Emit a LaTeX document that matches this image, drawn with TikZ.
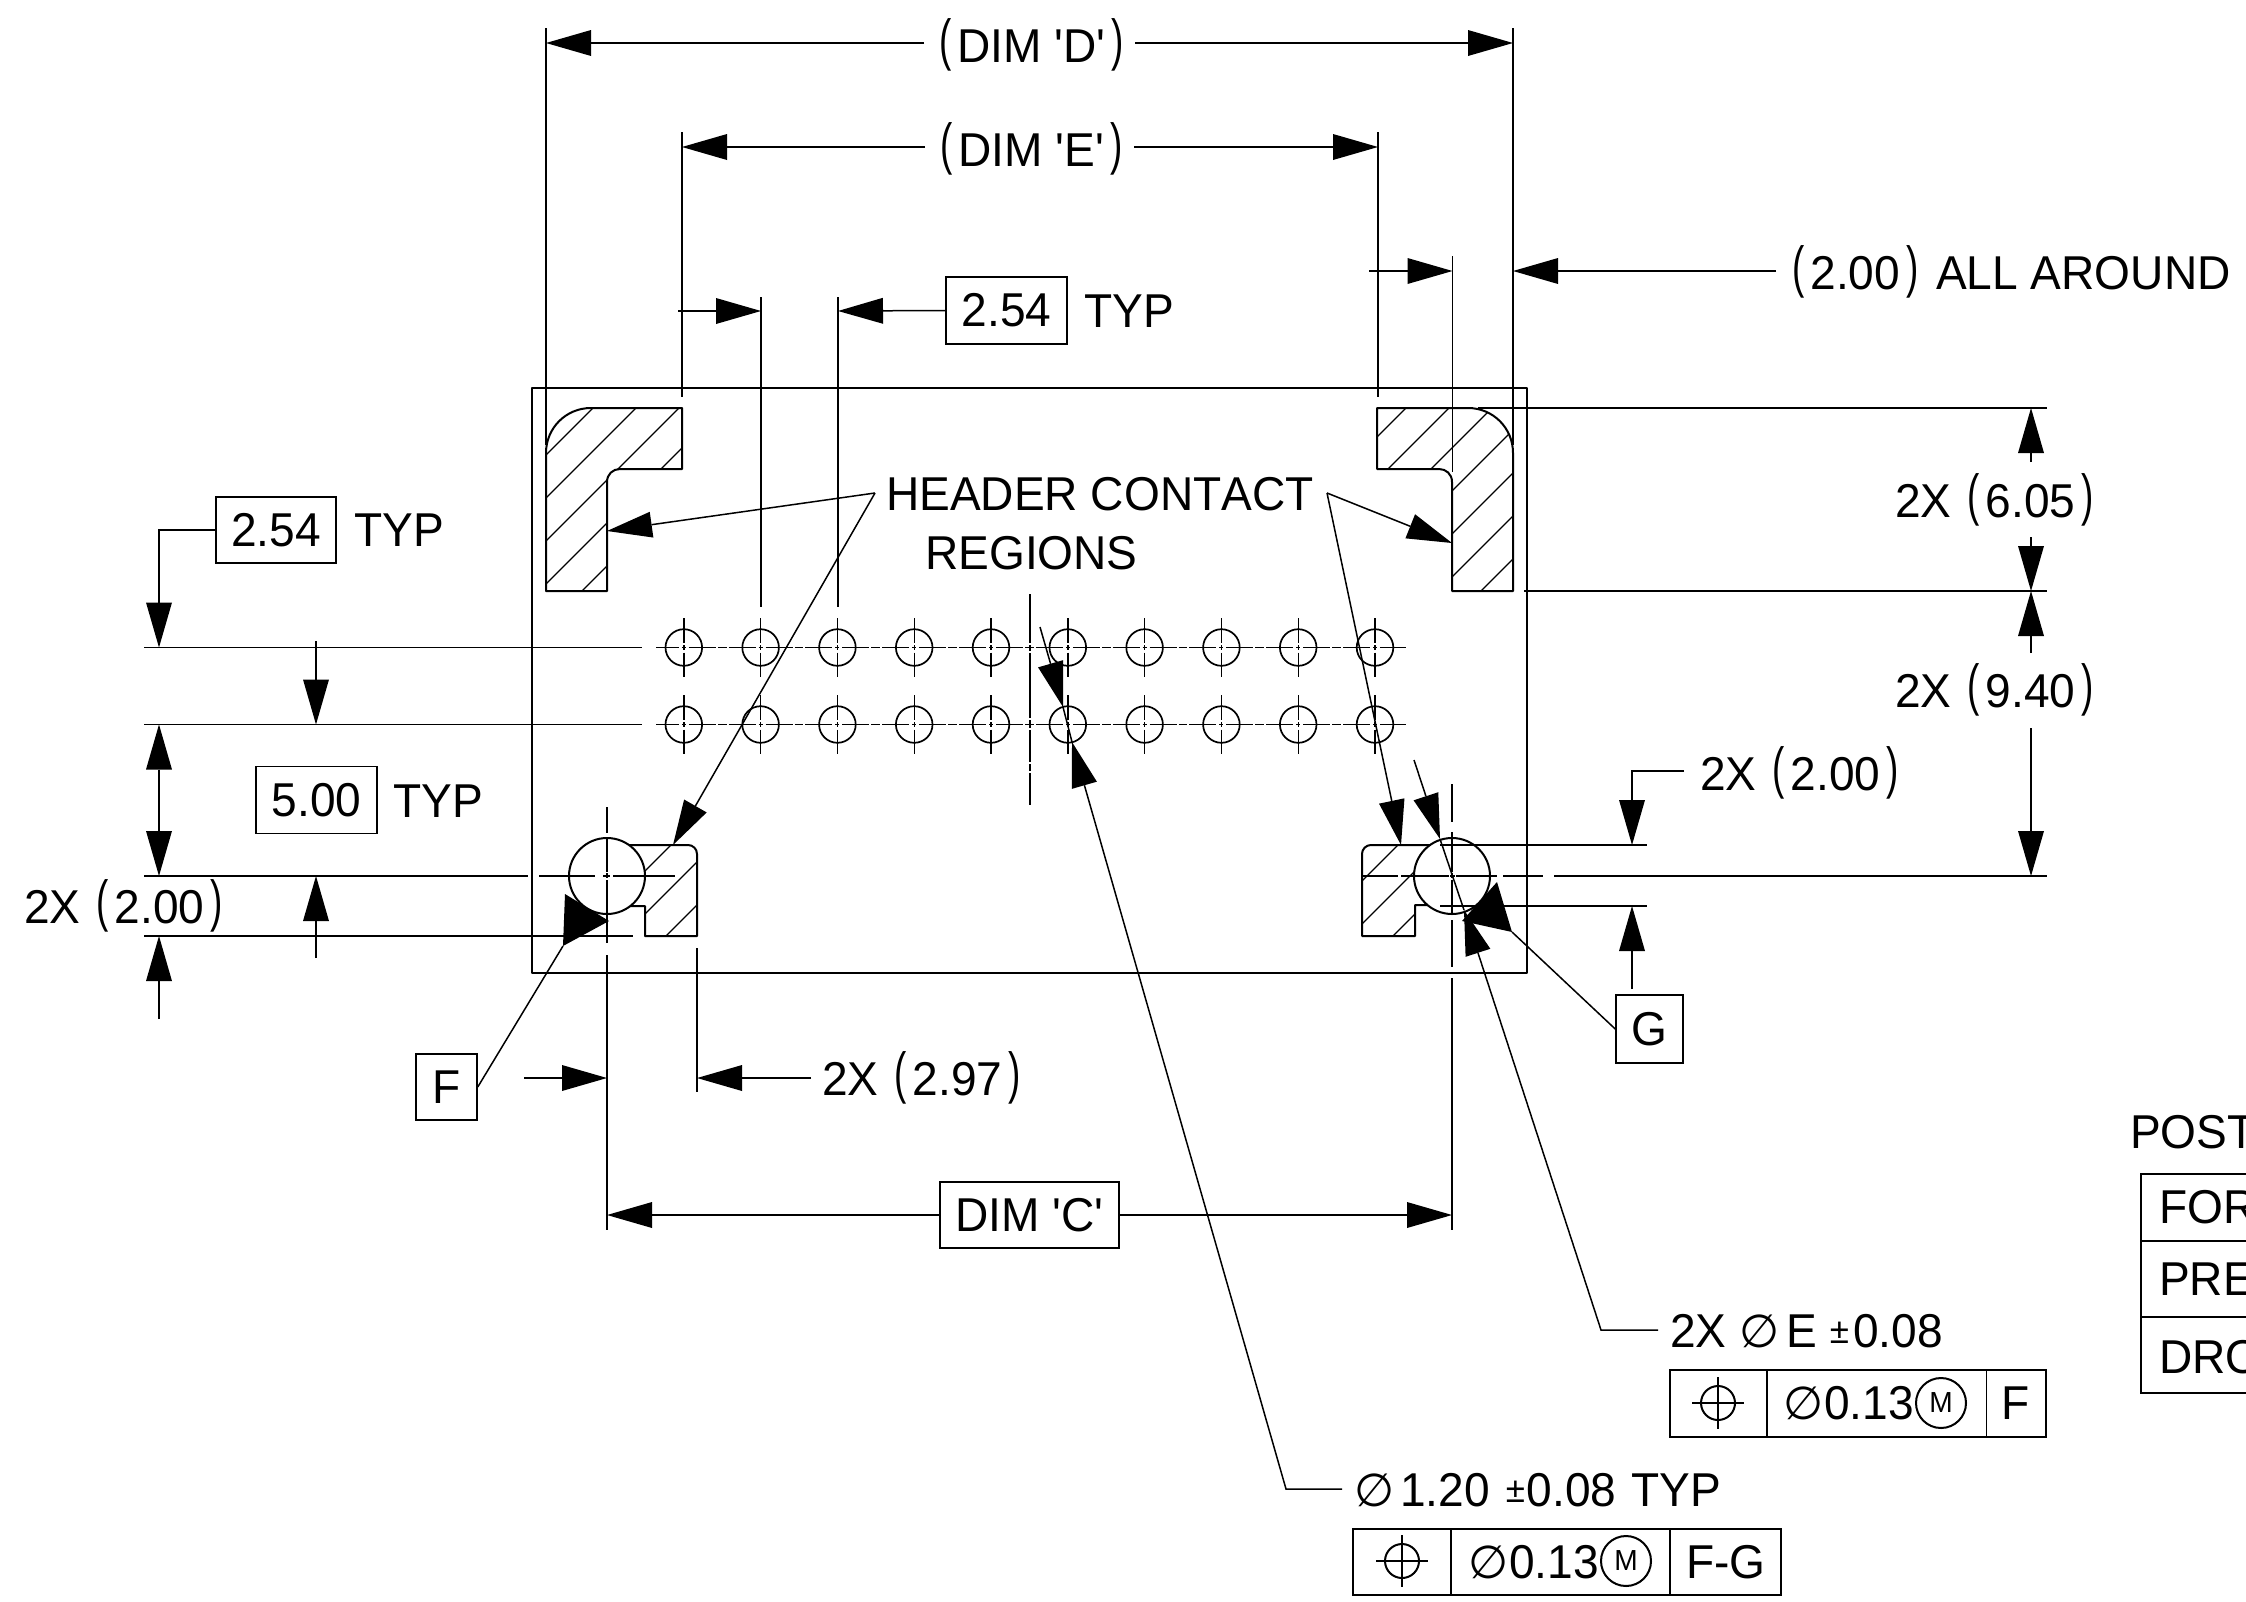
\documentclass[tikz,border=0pt]{standalone}
\usepackage{fontspec}
\setmainfont{Liberation Sans}[FakeStretch=0.97,Ligatures=TeXOff,Kerning=Off]
\newfontfamily\djv{DejaVu Sans}
\usetikzlibrary{arrows.meta}
\newcommand{\lp}{\kern3pt\raisebox{2.9pt}{\scalebox{0.8}[1.19]{(}}\kern6pt}
\newcommand{\rp}{\kern6pt\raisebox{2.9pt}{\scalebox{0.8}[1.19]{)}}}
\newcommand{\dia}{{\djv\fontsize{46}{46}\selectfont ∅}}
\newcommand{\pmm}{\raisebox{4pt}{\fontsize{36}{36}\selectfont ±}}
\tikzset{
  lin/.style={line width=1.5pt,line cap=butt},
  edgeln/.style={line width=2pt,line join=round},
  hatchl/.style={line width=1.3pt},
  dimto/.style={lin,-{Triangle[length=45pt,width=26pt,line width=0pt]}},
  dimboth/.style={lin,{Triangle[length=45pt,width=26pt,line width=0pt]}-{Triangle[length=45pt,width=26pt,line width=0pt]}},
  lab/.style={inner sep=0pt,anchor=base west,font=\fontsize{47.5}{50}\selectfont},
  labc/.style={inner sep=0pt,anchor=base,font=\fontsize{47.5}{50}\selectfont},
  boxn/.style={draw,lin,inner sep=0pt,font=\fontsize{47.5}{50}\selectfont},
  mcirc/.style={draw,circle,line width=2pt,inner sep=0pt,minimum size=50pt,font=\fontsize{29}{30}\selectfont},
  hole/.style={line width=1.7pt},
  holemark/.style={line width=1.4pt}
}
\newcommand{\hatch}[2]{%
  \foreach \k in {0,...,#2}{\pgfmathsetmacro{\cc}{#1+43*\k}
    \draw[hatchl] ({\cc-300},300) -- ({\cc-1000},1000);}}
\newcommand{\posym}[2]{%
  \draw[line width=2pt] (#1,#2) circle[radius=17];
  \draw[line width=2pt] (#1-26,#2) -- (#1+26,#2) (#1,#2-26) -- (#1,#2+26);}
\begin{document}
\begin{tikzpicture}[x=1pt,y=-1pt]
\useasboundingbox[fill=white] (0,0) rectangle (2246,1601);
% outer rectangle
\draw[edgeln] (532,387.5) rectangle (1527,973);
% contact regions
\def\pTL{(546,591)--(546,453)..controls(546,428)and(566,408)..(591,408)--(682,408)--(682,469)--(620,469)..controls(613,469)and(607,474)..(607,482)--(607,591)--cycle}
\def\pTR{(1377,408)--(1468,408)..controls(1493,408)and(1513,428)..(1513,453)--(1513,591)--(1452,591)--(1452,482)..controls(1452,474)and(1446,469)..(1439,469)--(1377,469)--cycle}
\def\pBL{(625,845)--(688,845)..controls(693,845)and(697,849)..(697,854)--(697,936)--(645,936)--(645,906)--(625,906)--cycle}
\def\pBR{(1434,845)--(1371,845)..controls(1366,845)and(1362,849)..(1362,854)--(1362,936)--(1415,936)--(1415,905)--(1434,905)--cycle}
\begin{scope}\clip \pTL; \hatch{1001}{4}\end{scope}
\begin{scope}\clip \pTR; \hatch{1814}{7}\end{scope}
\begin{scope}\clip \pBL; \hatch{1516}{3}\end{scope}
\begin{scope}\clip \pBR; \hatch{2243}{3}\end{scope}
\draw[edgeln] \pTL;
\draw[edgeln] \pTR;
\draw[edgeln] \pBL;
\draw[edgeln] \pBR;
\draw[edgeln,fill=white] (607,876) circle[radius=38];
\draw[edgeln,fill=white] (1452,876) circle[radius=38];
% hole rows
\draw[lin,dash pattern=on 4pt off 3pt on 27pt off 2pt on 8.8pt off 2pt on 27pt off 3pt,dash phase=51pt] (656,647.5) -- (1406,647.5);
\draw[lin,dash pattern=on 4pt off 3pt on 27pt off 2pt on 8.8pt off 2pt on 27pt off 3pt,dash phase=51pt] (656,724.5) -- (1406,724.5);
\foreach \xx in {683.8,760.6,837.4,914.2,991,1067.8,1144.6,1221.4,1298.2,1375}{
  \foreach \yy in {647.5,724.5}{
    \draw[hole] (\xx,\yy) circle[radius=18.3];
    \draw[holemark] (\xx,\yy-29.5) -- (\xx,\yy-5) (\xx,\yy-2.5) -- (\xx,\yy+2.5) (\xx,\yy+5) -- (\xx,\yy+29.5);
  }}
% central vertical centre line
\draw[lin] (1030,594)--(1030,643) (1030,645)--(1030,651) (1030,653)--(1030,718) (1030,720)--(1030,728) (1030,730)--(1030,762) (1030,764)--(1030,771) (1030,773)--(1030,805);
% extension lines, left
\draw[lin] (144,647.5)--(642,647.5);
\draw[lin] (144,724.5)--(642,724.5);
\draw[lin] (144,876)--(528,876);
\draw[lin] (539,876)--(595,876) (603,876)--(610,876) (613,876)--(675,876);
\draw[lin] (144,936)--(633,936);
% extension lines, right
\draw[lin] (1362,876)--(1398,876) (1401,876)--(1449,876) (1450,876)--(1455,876) (1456,876)--(1497,876) (1503,876)--(1543,876) (1554,876)--(2047,876);
\draw[lin] (1478,408)--(2047,408);
\draw[lin] (1524,591)--(2047,591);
\draw[lin] (1440,845)--(1647,845);
\draw[lin] (1440,906)--(1647,906);
% large hole vertical centre lines
\draw[lin] (607,807)--(607,833) (607,837)--(607,872) (607,873)--(607,878) (607,880)--(607,943) (607,955)--(607,1230);
\draw[lin] (1452,784)--(1452,822) (1452,832)--(1452,872) (1452,873)--(1452,878) (1452,880)--(1452,915) (1452,920)--(1452,967) (1452,978)--(1452,1230);
\draw[lin] (697,948)--(697,1092);
% top extension lines
\draw[lin] (546,28)--(546,445);
\draw[lin] (1513,28)--(1513,445);
\draw[lin] (682,132)--(682,397);
\draw[lin] (1378,132)--(1378,397);
\draw[lin] (1452.5,256)--(1452.5,472);
\draw[lin] (761,297)--(761,607);
\draw[lin] (838,297)--(838,607);
% DIM D
\node[labc] (dimD) at (1030,62) {\lp DIM 'D'\rp};
\coordinate (dl) at (546,43); \coordinate (dr) at (1513,43);
\draw[dimto] (924,43) -- (dl);
\draw[dimto] (1135,43) -- (dr);
% DIM E
\node[labc] (dimE) at (1030,166) {\lp DIM 'E'\rp};
\coordinate (el) at (682,147); \coordinate (er) at (1378,147);
\draw[dimto] (925,147) -- (el);
\draw[dimto] (1134,147) -- (er);
% 2.00 all around
\node[lab] (allar) at (1789,289) {\lp 2.00\rp\kern5pt\ ALL AROUND};
\draw[dimto] (1369,271) -- (1452.5,271);
\draw[dimto] (1776,271) -- (1513,271);
% 2.54 top
\node[boxn,minimum width=121pt,minimum height=67pt] (b254a) at (1006.5,310.5) {2.54};
\node[lab] (t254a) at (1084,327) {TYP};
\draw[dimto] (678,311) -- (761,311);
\draw[dimto] (b254a.west) -- (838,311);
% 2.54 left
\node[boxn,minimum width=120pt,minimum height=66pt] (b254b) at (276,530) {2.54};
\node[lab] (t254b) at (354,546) {TYP};
\coordinate (t1) at (159,647.5);
\draw[dimto] (b254b.west) -- (159,530) -- (t1);
\draw[dimto] (316,641) -- (316,724.5);
% 5.00
\node[boxn,minimum width=121pt,minimum height=67pt] (b500) at (316.5,800) {5.00};
\node[lab] (t500) at (393,817) {TYP};
\draw[dimboth] (159,724.5) -- (159,876);
\draw[dimto] (316,958) -- (316,876);
% 2X 2.00 left
\node[lab] (l200) at (24,923.5) {2X \lp 2.00\rp};
\draw[dimto] (159,1019) -- (159,936);
% header contact
\node[lab] (hc1) at (886,510) {HEADER CONTACT};
\node[lab] (hc2) at (925,569) {REGIONS};
\coordinate (jl) at (875,493); \coordinate (jr) at (1327,493);
\draw[dimto] (jl) -- (607,531);
\draw[dimto] (jl) -- (673,845);
\draw[dimto] (jr) -- (1452,543);
\draw[dimto] (jr) -- (1401,845);
% right dims
\node[lab] (r605) at (1895,517) {2X \lp 6.05\rp};
\node[lab] (r940) at (1895,707) {2X \lp 9.40\rp};
\draw[dimto] (2031,462) -- (2031,408);
\draw[dimto] (2031,537) -- (2031,591);
\draw[dimto] (2031,653) -- (2031,591);
\draw[dimto] (2031,728) -- (2031,876);
% right 2.00
\node[lab] (r200) at (1700,790) {2X \lp 2.00\rp};
\draw[dimto] (1684,771) -- (1632,771) -- (1632,845);
\draw[dimto] (1632,989) -- (1632,906);
% datum F
\node[boxn,minimum width=61pt,minimum height=66pt] (bF) at (446.5,1087) {F};
\fill (565,894) -- (563,946) -- (609,921) -- cycle;
\coordinate (fv) at (563,946);
\draw[lin] (bF.east) -- (fv);
\draw[dimto] (524,1078) -- (607,1078);
\draw[dimto] (811,1078) -- (697,1078);
\node[lab] (l297) at (822,1095) {2X \lp 2.97\rp};
% datum G
\node[boxn,minimum width=67pt,minimum height=68pt] (bG) at (1649.5,1029) {G};
\fill (1497,882) -- (1512,932) -- (1462,921) -- cycle;
\coordinate (gv) at (1512,932);
\draw[lin] (bG.west) -- (gv);
% DIM C
\node[boxn,minimum width=179pt,minimum height=66pt] (bC) at (1029.5,1215) {DIM 'C'};
\draw[dimto] (bC.west) -- (607,1215);
\draw[dimto] (bC.east) -- (1452,1215);
% hole callouts
\node[lab] (c1) at (1670,1347) {2X \dia\kern7pt E \pmm\kern4pt 0.08};
\coordinate (e1) at (1601,1330);
\draw[dimto] (1658,1330) -- (e1) -- (1464,910);
\draw[dimto] (1414,760) -- (1440,839);
\node[lab] (c2) at (1354,1506) {\dia\kern6pt 1.20 \kern3pt\pmm\kern2pt 0.08 \kern2pt TYP};
\coordinate (e2) at (1286,1489);
\draw[dimto] (1342,1489) -- (e2) -- (1072,742);
\draw[lin] (1072,742) -- (1063,707);
\draw[dimto] (1040,627) -- (1063,707);
\draw[lin] (1464,910) -- (1440,839);
% frame 1
\draw[lin] (1670,1370) rectangle (2046,1437) (1767,1370)--(1767,1437) (1986.5,1370)--(1986.5,1437);
\posym{1718}{1403}
\node[lab] (f1t) at (1783,1419) {\dia\kern1pt 0.13};
\node[mcirc] (f1m) at (1941,1403) {M};
\node[labc] (f1d) at (2016,1419) {F};
% frame 2
\draw[lin] (1353,1529) rectangle (1781,1595) (1451,1529)--(1451,1595) (1670,1529)--(1670,1595);
\posym{1402}{1561}
\node[lab] (f2t) at (1468,1578) {\dia\kern1pt 0.13};
\node[mcirc] (f2m) at (1626,1561) {M};
\node[labc] (f2d) at (1726,1578) {F-G};
% table clipped by the page edge
\begin{scope}
\clip (0,0) rectangle (2246,1601);
\node[lab] (tt) at (2130,1148) {POST};
\draw[lin] (2246,1174)--(2141,1174)--(2141,1393)--(2246,1393);
\draw[lin] (2141,1241)--(2246,1241) (2141,1317)--(2246,1317);
\node[lab] (r1) at (2159,1223) {FOR};
\node[lab] (r2) at (2159,1295) {PRE};
\node[lab] (r3) at (2159,1373) {DRO};
\end{scope}
\end{tikzpicture}
\end{document}
